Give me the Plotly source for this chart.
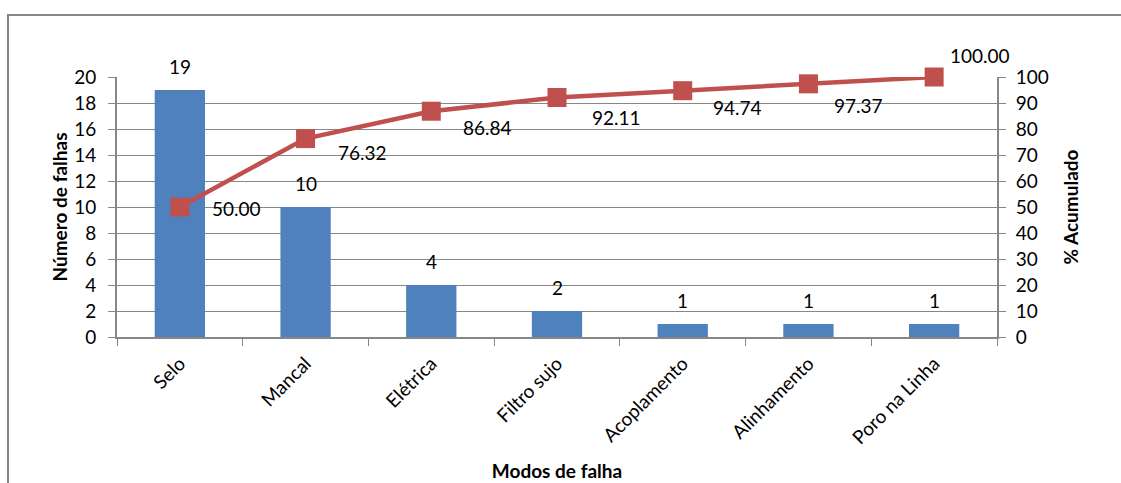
import plotly.graph_objects as go

categories = ["Selo", "Mancal", "Elétrica", "Filtro sujo", "Acoplamento", "Alinhamento", "Poro na Linha"]
falhas = [19, 10, 4, 2, 1, 1, 1]
acumulado = [50.00, 76.32, 86.84, 92.11, 94.74, 97.37, 100.00]
left_ticks = [0, 2, 4, 6, 8, 10, 12, 14, 16, 18, 20]
right_ticks = [0, 10, 20, 30, 40, 50, 60, 70, 80, 90, 100]

# label placement (pixel offsets) for the cumulative labels
label_dx = [30, 30, 30, 33, 28, 24, 14]
label_dy = [-1, -14, -16, -20, -17, -22, 22]

FONT = "Lato"
FS = 19
GRID = "#878787"

fig = go.Figure()
fig.add_trace(go.Bar(
    x=categories, y=falhas, marker=dict(color="#4F81BD", line=dict(width=0)),
    width=0.4, yaxis="y",
))
fig.add_trace(go.Scatter(
    x=categories, y=acumulado, mode="lines+markers", yaxis="y2",
    line=dict(color="#C0504D", width=4.5, shape="linear"),
    marker=dict(symbol="square", size=19, color="#C0504D"), cliponaxis=False,
))

for c, v in zip(categories, falhas):
    fig.add_annotation(x=c, y=v, yref="y", xref="x", text=str(v), showarrow=False,
                       xanchor="center", yanchor="middle", yshift=24,
                       font=dict(family=FONT, size=FS, color="black"))

for c, v, dx, dy in zip(categories, acumulado, label_dx, label_dy):
    fig.add_annotation(x=c, y=v, yref="y2", xref="x", text=f"{v:.2f}", showarrow=False,
                       xanchor="left", yanchor="middle", xshift=dx, yshift=dy,
                       font=dict(family=FONT, size=FS, color="black"))

# chart border
fig.add_shape(type="rect", xref="paper", yref="paper", x0=(8 - 117) / 880, x1=1.3,
              y0=-1.0, y1=(337 - 15) / 260, line=dict(color=GRID, width=2), layer="below")

fig.update_layout(
    width=1121, height=483, margin=dict(l=117, r=124, t=77, b=146, autoexpand=False),
    plot_bgcolor="white", paper_bgcolor="white", showlegend=False,
    font=dict(family=FONT, size=FS, color="black"),
    xaxis=dict(type="category", range=[-0.5, len(categories) - 0.5], tickangle=-45,
               ticks="outside", ticklen=7, tickcolor=GRID,
               tickson="boundaries", showline=True, linecolor=GRID, linewidth=2,
               showgrid=False, tickfont=dict(size=FS), automargin=False, ticklabelstandoff=6,
               title=dict(text="<b>Modos de falha</b>", font=dict(size=FS), standoff=17)),
    yaxis=dict(range=[0, 20], tickvals=left_ticks, ticks="outside", ticklen=7, tickcolor=GRID,
               showline=True, linecolor=GRID, linewidth=2, showgrid=True, gridcolor=GRID,
               gridwidth=1, zeroline=False, tickfont=dict(size=FS), automargin=False,
               ticklabelstandoff=8,
               title=dict(text="<b>Número de falhas</b>", font=dict(size=FS), standoff=2)),
    yaxis2=dict(range=[0, 100], tickvals=right_ticks, overlaying="y", side="right",
                ticks="outside", ticklen=7, tickcolor=GRID, showline=True, linecolor=GRID,
                linewidth=2, showgrid=False, zeroline=False, tickfont=dict(size=FS),
                automargin=False, ticklabelstandoff=6,
                title=dict(text="<b>% Acumulado</b>", font=dict(size=FS), standoff=17)),
    bargap=0.6,
)

fig.write_html("out.html", config={"displayModeBar": False},
               post_script="document.body.style.margin='0';document.body.style.overflow='hidden';")
